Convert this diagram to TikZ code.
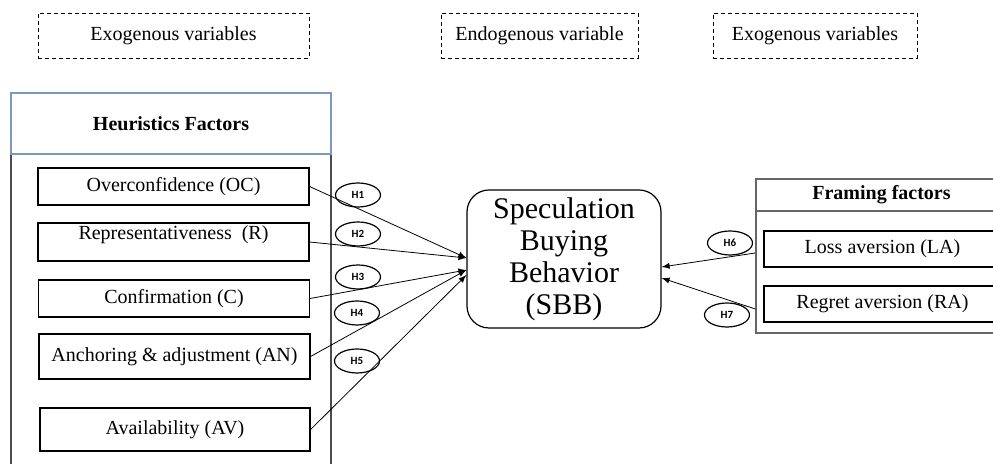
\documentclass[tikz,border=0pt]{standalone}
\usepackage{fontspec}
\setmainfont{Liberation Serif}
\newfontfamily\hypfont{Carlito}
\usetikzlibrary{shapes.geometric,calc}
\definecolor{hdblue}{RGB}{125,152,190}

\begin{document}
\begin{tikzpicture}[x=0.5pt,y=-0.5pt,
		varbox/.style={draw,dashed,dash pattern=on 2pt off 1.5pt,minimum width=#1,minimum height=22.5pt,inner sep=0pt},
		factor/.style={draw,line width=0.6pt,minimum width=135.5pt,minimum height=18.5pt,inner sep=0pt},
		hyp/.style={ellipse,draw,line width=0.6pt,minimum width=22.5pt,minimum height=12pt,inner sep=0pt,font=\hypfont\bfseries\fontsize{5.5}{6}\selectfont}]
		\clip (0,0) rectangle (993,464);
		
		% top labels
		\node[varbox=135.5pt] (exoL) at (173.5,35.5) {Exogenous variables};
		\node[varbox=98.5pt] (endo) at (539.5,35.5) {Endogenous variable};
		\node[varbox=102pt] (exoR) at (815,35.5) {Exogenous variables};
		
		% heuristics block
		\node[draw=black!70,line width=0.7pt,minimum width=160pt,minimum height=165pt] (hbody) at (171,319) {};
		\node[draw=hdblue,line width=0.6pt,fill=white,minimum width=160pt,minimum height=30.5pt,font=\bfseries] (hhead) at (171,123.5) {Heuristics Factors};
		\node[factor] (oc) at (173.5,186.5) {Overconfidence (OC)};
		\node[factor,minimum height=19pt] (rep) at (173.5,242) {\raisebox{1.2pt}[0pt][0pt]{Representativeness\ \ (R)}};
		\node[factor] (conf) at (174,298.5) {Confirmation (C)};
		\node[factor,minimum height=22.5pt] (anch) at (174.5,356.5) {Anchoring \& adjustment (AN)};
		\node[factor,minimum height=21.5pt,minimum width=135pt] (avail) at (175,429.5) {Availability (AV)};
		
		% central construct
		\node[draw,line width=0.6pt,rounded corners=11pt,minimum width=97pt,minimum height=69pt,align=center,font=\fontsize{15}{16}\selectfont] (sbb) at (564,259) {Speculation\\Buying\\Behavior\\(SBB)};
		
		% framing block
		\node[draw=black!60,line width=0.7pt,minimum width=125.5pt,minimum height=61pt] (fbody) at (881.5,272) {};
		\node[draw=black!60,line width=0.7pt,minimum width=125.5pt,minimum height=16pt,font=\bfseries] (fhead) at (881.5,195) {Framing factors};
		\node[factor,minimum width=118.5pt,minimum height=18pt] (la) at (882.5,249) {Loss aversion (LA)};
		\node[factor,minimum width=118.5pt,minimum height=18pt] (ra) at (882.5,304) {Regret aversion (RA)};
		
		% hypotheses
		\foreach \n/\x/\y in {1/358/195, 2/358/234, 3/358/277, 4/357/313, 5/357/361, 6/730/243, 7/727/315}{
			\node[hyp] (h\n) at (\x,\y) {H\n};
		}
		
		% paths
		\foreach \src/\dy in {oc/-1, rep/-1, conf/11, anch/11, avail/16}{
			\draw[-latex] (\src.east) -- ($(sbb.west)+(0,\dy)$);
		}
		\draw[-latex] ($(la.west -| fbody.west)+(0,4)$) -- ($(sbb.east)+(0,8)$);
		\draw[-latex] ($(ra.west -| fbody.west)+(0,5)$) -- ($(sbb.east)+(0,19)$);
\end{tikzpicture}
\end{document}
